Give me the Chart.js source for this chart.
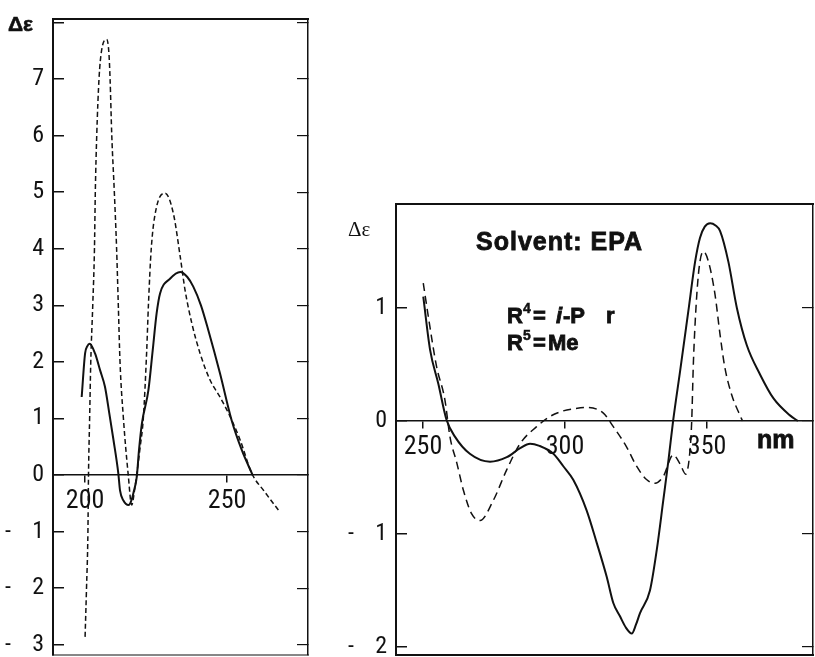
<!DOCTYPE html>
<html>
<head>
<meta charset="utf-8">
<title>CD spectra</title>
<script src="https://cdn.jsdelivr.net/npm/chart.js@4.4.0/dist/chart.umd.min.js"></script>
<style>
  html, body { margin: 0; padding: 0; background: #fff; }
  #wrap { position: relative; width: 815px; height: 657px; overflow: hidden; }
  #left { position: absolute; left: 0; top: 0; }
  #right { position: absolute; left: 330px; top: 180px; }
</style>
</head>
<body>
<div id="wrap">
  <canvas id="left" width="314" height="657"></canvas>
  <canvas id="right" width="485" height="477"></canvas>
</div>
<script>
// ---- left panel (nm / delta epsilon) ----
const leftSolidX = [198.8, 200.0, 200.8, 201.6, 203.5, 205.3, 207.0, 208.5, 210.0, 211.7, 212.3, 213.5, 215.3, 216.5, 217.0, 218.2, 219.0, 220.0, 222.3, 223.8, 225.2, 226.4, 229.9, 233.5, 236.0, 238.1, 240.8, 243.4, 247.5, 251.6, 255.2, 259.0];
const leftSolidY = [1.38, 2.15, 2.28, 2.32, 2.15, 1.85, 1.56, 1.10, 0.62, 0.03, -0.27, -0.45, -0.53, -0.42, -0.32, -0.03, 0.45, 0.91, 1.50, 2.20, 2.86, 3.21, 3.47, 3.59, 3.50, 3.33, 3.00, 2.56, 1.80, 0.97, 0.44, 0.00];
const leftDashX = [200.0, 200.5, 201.0, 201.2, 201.6, 202.0, 202.7, 203.3, 203.6, 204.1, 204.9, 205.8, 207.6, 208.4, 208.8, 209.4, 210.3, 211.1, 211.7, 212.3, 213.5, 215.2, 216.4, 217.6, 219.4, 220.5, 221.7, 222.3, 223.3, 225.0, 228.2, 231.1, 233.5, 235.2, 237.6, 240.5, 244.0, 247.5, 251.1, 254.6, 258.7, 263.0, 268.1];
const leftDashY = [-2.86, -2.0, -1.0, 0.0, 1.0, 2.0, 3.0, 4.0, 5.0, 6.0, 7.0, 7.5, 7.7, 7.45, 7.0, 6.0, 5.0, 4.0, 3.0, 2.0, 1.0, 0.0, -0.53, -0.2, 0.5, 1.0, 2.2, 3.0, 4.0, 4.7, 4.98, 4.62, 3.86, 3.27, 2.68, 2.15, 1.68, 1.38, 1.03, 0.62, 0.03, -0.28, -0.62];
const leftXTicks = [200, 250];
const leftYTicks = [-3, -2, -1, 0, 1, 2, 3, 4, 5, 6, 7, 8];

// ---- right panel ----
const rightSolidX = [250.1, 252.5, 255.4, 258.3, 261.3, 266.5, 273.6, 279.5, 284.2, 287.7, 291.0, 295.9, 299.4, 302.9, 307.6, 311.2, 314.7, 317.0, 319.4, 321.5, 323.5, 325.0, 326.4, 329.9, 332.3, 334.6, 336.4, 338.1, 340.5, 343.4, 345.8, 347.5, 349.2, 351.1, 353.0, 354.6, 357.5, 360.5, 364.0, 368.7, 373.4, 379.2, 382.0];
const rightSolidY = [1.10, 0.63, 0.33, 0.01, -0.14, -0.29, -0.36, -0.32, -0.24, -0.20, -0.22, -0.29, -0.40, -0.52, -0.79, -1.08, -1.38, -1.61, -1.73, -1.83, -1.88, -1.80, -1.70, -1.50, -1.14, -0.70, -0.35, 0.01, 0.44, 0.97, 1.41, 1.62, 1.72, 1.75, 1.73, 1.68, 1.41, 1.00, 0.67, 0.41, 0.20, 0.05, 0.00];
const rightDashX = [250.1, 251.9, 254.8, 257.7, 259.5, 261.9, 264.2, 267.1, 270.1, 274.8, 279.5, 284.2, 290.0, 294.7, 299.4, 303.5, 307.6, 313.5, 317.0, 321.7, 325.2, 328.8, 331.7, 334.6, 338.1, 340.5, 342.5, 344.0, 344.6, 345.2, 346.4, 347.5, 348.7, 350.5, 352.8, 354.6, 356.3, 358.7, 361.6, 362.5];
const rightDashY = [1.22, 0.92, 0.48, 0.19, -0.14, -0.37, -0.61, -0.82, -0.88, -0.70, -0.43, -0.20, -0.05, 0.04, 0.09, 0.11, 0.12, 0.07, -0.05, -0.23, -0.40, -0.52, -0.55, -0.49, -0.30, -0.38, -0.47, -0.26, 0.0, 0.52, 1.12, 1.41, 1.50, 1.41, 1.12, 0.76, 0.47, 0.23, 0.05, 0.0];
const rightXTicks = [250, 300, 350];
const rightYTicks = [-2, -1, 0, 1];

const INK = '#111';
const NARROW = "'Liberation Sans Narrow', 'Roboto Condensed', 'DejaVu Sans Condensed', sans-serif";
const SANS = "'Liberation Sans', Arial, sans-serif";
const SERIF = "'Liberation Serif', 'DejaVu Serif', serif";

function zip(xs, ys) {
    return xs.map((x, i) => ({ x: x, y: ys[i] }));
}

function yLabel(v) {
    if (v < 0) return '-   \u2009' + Math.abs(v);
    return String(v);
}

// top and bottom edges of the frame
const framePlugin = {
    id: 'frame',
    afterDraw(chart, args, opts) {
        const { ctx, chartArea: a } = chart;
        ctx.save();
        ctx.strokeStyle = INK;
        ctx.lineWidth = opts.top || 2;
        ctx.beginPath();
        ctx.moveTo(a.left - 1, a.top);
        ctx.lineTo(a.right + 1, a.top);
        ctx.stroke();
        ctx.lineWidth = opts.bottom || 1.5;
        ctx.beginPath();
        ctx.moveTo(a.left - 1, a.bottom);
        ctx.lineTo(a.right + 1, a.bottom);
        ctx.stroke();
        ctx.restore();
    }
};

// free text pieces, canvas coordinates
const textPlugin = {
    id: 'texts',
    afterDraw(chart, args, opts) {
        const ctx = chart.ctx;
        ctx.save();
        ctx.fillStyle = INK;
        ctx.strokeStyle = INK;
        ctx.textBaseline = 'alphabetic';
        ctx.textAlign = 'left';
        (opts.items || []).forEach(t => {
            ctx.font = t.font;
            ctx.letterSpacing = t.spacing || '0px';
            ctx.fillText(t.text, t.x, t.y);
            if (t.heavy) {
                // heavier look of the original lettering
                ctx.lineWidth = t.heavy;
                ctx.strokeText(t.text, t.x, t.y);
            }
        });
        ctx.restore();
    }
};

function noPad(s) {
    s.paddingTop = 0;
    s.paddingBottom = 0;
    s.paddingLeft = 0;
    s.paddingRight = 0;
}

function panel(canvasId, cfg) {
    const xTickSet = cfg.xTicks, yTickSet = cfg.yTicks;
    return new Chart(document.getElementById(canvasId), {
        type: 'line',
        data: {
            datasets: [{
                data: zip(cfg.solidX, cfg.solidY),
                borderColor: INK,
                borderWidth: 2,
                pointRadius: 0,
                cubicInterpolationMode: 'monotone',
                fill: false
            }, {
                data: zip(cfg.dashX, cfg.dashY),
                borderColor: INK,
                borderWidth: 1.5,
                borderDash: cfg.dash,
                pointRadius: 0,
                cubicInterpolationMode: 'monotone',
                fill: false
            }]
        },
        options: {
            responsive: false,
            animation: false,
            events: [],
            layout: { padding: cfg.padding },
            plugins: {
                legend: { display: false },
                tooltip: { enabled: false },
                frame: { top: 2, bottom: cfg.bottomWidth },
                texts: { items: cfg.texts }
            },
            scales: {
                x: {
                    type: 'linear',
                    position: { y: 0 },
                    min: cfg.xMin,
                    max: cfg.xMax,
                    afterFit: s => { s.height = 0; noPad(s); },
                    afterBuildTicks: s => { s.ticks = xTickSet.map(v => ({ value: v })); },
                    grid: { drawOnChartArea: false, drawTicks: true, tickLength: 7, color: INK, lineWidth: 1.5 },
                    border: { display: true, color: INK, width: 1.5 },
                    ticks: {
                        color: INK,
                        padding: 4,
                        maxRotation: 0,
                        autoSkip: false,
                        font: { family: NARROW, size: 26 },
                        callback: v => String(v)
                    }
                },
                y: {
                    position: 'left',
                    min: cfg.yMin,
                    max: cfg.yMax,
                    afterFit: s => { s.width = cfg.yWidth; noPad(s); },
                    afterBuildTicks: s => { s.ticks = yTickSet.map(v => ({ value: v })); },
                    grid: { drawOnChartArea: false, drawTicks: true, tickLength: -11, color: INK, lineWidth: 1.5 },
                    border: { display: true, color: INK, width: 2 },
                    ticks: {
                        color: INK,
                        padding: 20,
                        autoSkip: false,
                        font: { family: NARROW, size: 24 },
                        callback: v => (v === cfg.hideTick ? '' : yLabel(v))
                    }
                },
                y2: {
                    position: 'right',
                    min: cfg.yMin,
                    max: cfg.yMax,
                    afterFit: s => { s.width = 0; noPad(s); },
                    afterBuildTicks: s => { s.ticks = yTickSet.map(v => ({ value: v })); },
                    grid: { drawOnChartArea: false, drawTicks: true, tickLength: -11, color: INK, lineWidth: 1.2 },
                    border: { display: true, color: INK, width: 1.5 },
                    ticks: { display: false }
                }
            }
        },
        plugins: [framePlugin, textPlugin]
    });
}

document.addEventListener('DOMContentLoaded', () => {
    panel('left', {
        solidX: leftSolidX, solidY: leftSolidY,
        dashX: leftDashX, dashY: leftDashY,
        xTicks: leftXTicks, yTicks: leftYTicks,
        xMin: 188.7, xMax: 278.5, yMin: -3.18, yMax: 8.06,
        yWidth: 53, hideTick: 8,
        dash: [5, 3],
        bottomWidth: 1.2,
        padding: { left: 0, top: 19, right: 6, bottom: 2 },
        texts: [
            { text: 'Δε', x: 8, y: 31, font: 'bold 21px ' + SANS, heavy: 0.6 }
        ]
    });

    panel('right', {
        solidX: rightSolidX, solidY: rightSolidY,
        dashX: rightDashX, dashY: rightDashY,
        xTicks: rightXTicks, yTicks: rightYTicks,
        xMin: 240.5, xMax: 387.3, yMin: -2.07, yMax: 1.92,
        yWidth: 66, hideTick: null,
        dash: [8, 5],
        bottomWidth: 1.8,
        padding: { left: 0, top: 24, right: 2, bottom: 2 },
        texts: [
            { text: 'Δε', x: 18, y: 56, font: '21px ' + SERIF },
            { text: 'Solvent: EPA', x: 146, y: 70, font: 'bold 25px ' + SANS, spacing: '1px', heavy: 0.8 },
            { text: 'R', x: 177, y: 143, font: 'bold 22px ' + SANS, heavy: 0.8 },
            { text: '4', x: 193, y: 133, font: 'bold 14px ' + SANS, heavy: 0.5 },
            { text: '=', x: 203, y: 143, font: 'bold 22px ' + SANS, heavy: 0.8 },
            { text: 'i', x: 226, y: 143, font: 'italic bold 22px ' + SANS, heavy: 0.8 },
            { text: '-P', x: 233, y: 143, font: 'bold 22px ' + SANS, heavy: 0.8 },
            { text: 'r', x: 276, y: 143, font: 'bold 22px ' + SANS, heavy: 0.8 },
            { text: 'R', x: 177, y: 170, font: 'bold 22px ' + SANS, heavy: 0.8 },
            { text: '5', x: 193, y: 160, font: 'bold 14px ' + SANS, heavy: 0.5 },
            { text: '=', x: 203, y: 170, font: 'bold 22px ' + SANS, heavy: 0.8 },
            { text: 'Me', x: 218, y: 170, font: 'bold 22px ' + SANS, heavy: 0.8 },
            { text: 'nm', x: 427, y: 268, font: 'bold 25px ' + SANS, heavy: 0.8 }
        ]
    });
});
</script>
</body>
</html>
